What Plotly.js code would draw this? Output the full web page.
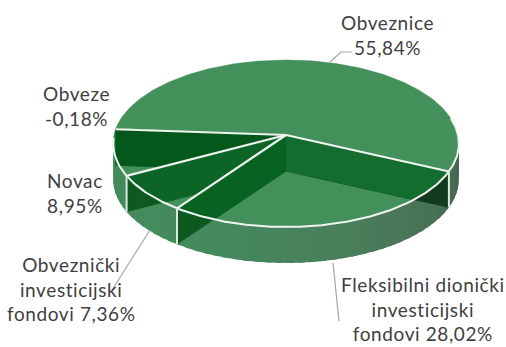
<!DOCTYPE html>
<html><head><meta charset="utf-8">
<script src="https://cdn.plot.ly/plotly-3.0.1.min.js"></script>
<style>html,body{margin:0;padding:0;background:#fff}#c{width:506px;height:347px}
.annotation-text{letter-spacing:0.6px}</style>
</head><body><div id="c"></div>
<script>
// Data
const categories = ["Fleksibilni dionički investicijski fondovi","Obveznički investicijski fondovi","Novac","Obveze","Obveznice"];
const shares = [28.02,7.36,8.95,-0.18,55.84];
const labelTexts = ["Fleksibilni dionički<br>investicijski<br>fondovi 28,02%","Obveznički<br>investicijski<br>fondovi 7,36%","Novac<br>8,95%","Obveze<br>-0,18%","Obveznice<br>55,84%"];
const labelX = [423,71,75,76,387];
const labelY = [309,289,193,106,35];
const wallColors = ["#04581c","#0c6426","#086222","#126d2e"];
const wallOuterColors = ["#123a1e","#0c5a20","#0f5c25"];
const sideStops = [[0,"#435c49"],[0.15,"#466b52"],[0.35,"#4a7a5a"],[0.6,"#458a5e"],[1,"#418c5a"]];

// Pie geometry (projective view of a disc)
const cx=286, cy=135, rx=172, A=82.6, k=0.102, depth=36, startDeg=25;
const topColor="#43905b", rimColor="#eef4ee";
const P=(th,d=0)=>{const c=Math.cos(th),s=Math.sin(th),w=1-k*s;return [cx+rx*c/w, cy+A*s/w+d];};
const rad=d=>d*Math.PI/180;
const total=shares.reduce((a,b)=>a+Math.abs(b),0);
const edges=[startDeg]; shares.forEach(v=>edges.push(edges[edges.length-1]+Math.abs(v)/total*360));
const traces=[];
const poly=(pts,color,name,w)=>traces.push({type:"scatter",mode:"lines",x:pts.map(p=>p[0]),y:pts.map(p=>p[1]),fill:"toself",fillcolor:color,line:{color:color,width:w===undefined?0.5:w},hoverinfo:"skip",name:name||"",showlegend:false});
const stroke=(pts,color,w)=>traces.push({type:"scatter",mode:"lines",x:pts.map(p=>p[0]),y:pts.map(p=>p[1]),line:{color:color,width:w},hoverinfo:"skip",showlegend:false});
const arc=(a,b,d=0,n=80)=>{const o=[];for(let i=0;i<=n;i++)o.push(P(rad(a+(b-a)*i/n),d));return o;};
const hex=c=>[1,3,5].map(i=>parseInt(c.substr(i,2),16));
const sideCol=t=>{for(let i=1;i<sideStops.length;i++){if(t<=sideStops[i][0]){const[a,ca]=sideStops[i-1],[b,cb]=sideStops[i];const f=(t-a)/(b-a),x=hex(ca),y=hex(cb);return `rgb(${x.map((v,j)=>Math.round(v+(y[j]-v)*f)).join(",")})`;}}return sideStops[sideStops.length-1][1];};

// Outer side wall, light to dark left to right
const sideA=-8, sideB=190, strips=60;
for(let i=0;i<strips;i++){const a=sideA+(sideB-sideA)*i/strips,b=sideA+(sideB-sideA)*(i+1.6)/strips;
  poly(arc(a,b,0,4).concat(arc(b,a,depth,4)),sideCol((i+0.5)/strips),"",0);}

const apex=[cx,cy];
const wallEdges=[edges[3],edges[2],edges[1],edges[0]];
// Disc: one polygon per slice
shares.forEach((v,i)=>poly([apex].concat(arc(edges[i],edges[i+1],0,Math.max(3,Math.round(Math.abs(v)*3)))),topColor,categories[i]));

const front=arc(6,174,0,400);
const rimY=x=>{let best=null,bd=1e9;front.forEach(p=>{const d=Math.abs(p[0]-x);if(d<bd){bd=d;best=p[1];}});return best;};
const outer=[wallOuterColors[2],wallOuterColors[1],wallOuterColors[1],wallOuterColors[0]];
wallEdges.forEach((e,i)=>{
  const end=P(rad(e)), n=60, upper=[], lower=[], under=[];
  for(let j=0;j<=n;j++){const t=j/n,x=cx+(end[0]-cx)*t,y=cy+(end[1]-cy)*t,r=rimY(x),b=y+depth;
    upper.push([x,y]); lower.push([x,Math.min(b,r)]); under.push([x,b]);}
  poly(lower.concat(under.slice().reverse()),outer[i]);   // part over the outer wall
  poly(upper.concat(lower.slice().reverse()),wallColors[i]); // part inside the rim
});

// White edges
stroke(arc(-12,178,0,200),rimColor,2);
edges.slice(0,4).forEach(e=>{const p=P(rad(e));stroke([apex,p],rimColor,2.2);
  if(e!==edges[3]) stroke([p,[p[0],p[1]+depth]],"#dfe8df",2);});

// Leader lines
const leaders=[[[333,263],[339,321]],[[150,230],[112,290]],[[330,62],[341,52],[352,52]]];
leaders.forEach(l=>stroke(l,"#a3a3a3",1.2));

const annotations=labelTexts.map((t,i)=>({x:labelX[i],y:labelY[i],xref:"x",yref:"y",text:t,showarrow:false,xanchor:"center",yanchor:"middle",align:"center",font:{family:"Lato, 'Open Sans', sans-serif",size:19,color:"#404040"}}));

Plotly.newPlot("c",traces,{width:506,height:347,margin:{l:0,r:0,t:0,b:0},paper_bgcolor:"#fff",plot_bgcolor:"#fff",showlegend:false,
  xaxis:{range:[0,506],visible:false,fixedrange:true},yaxis:{range:[347,0],visible:false,fixedrange:true},annotations},{displayModeBar:false,staticPlot:true});
</script></body></html>
